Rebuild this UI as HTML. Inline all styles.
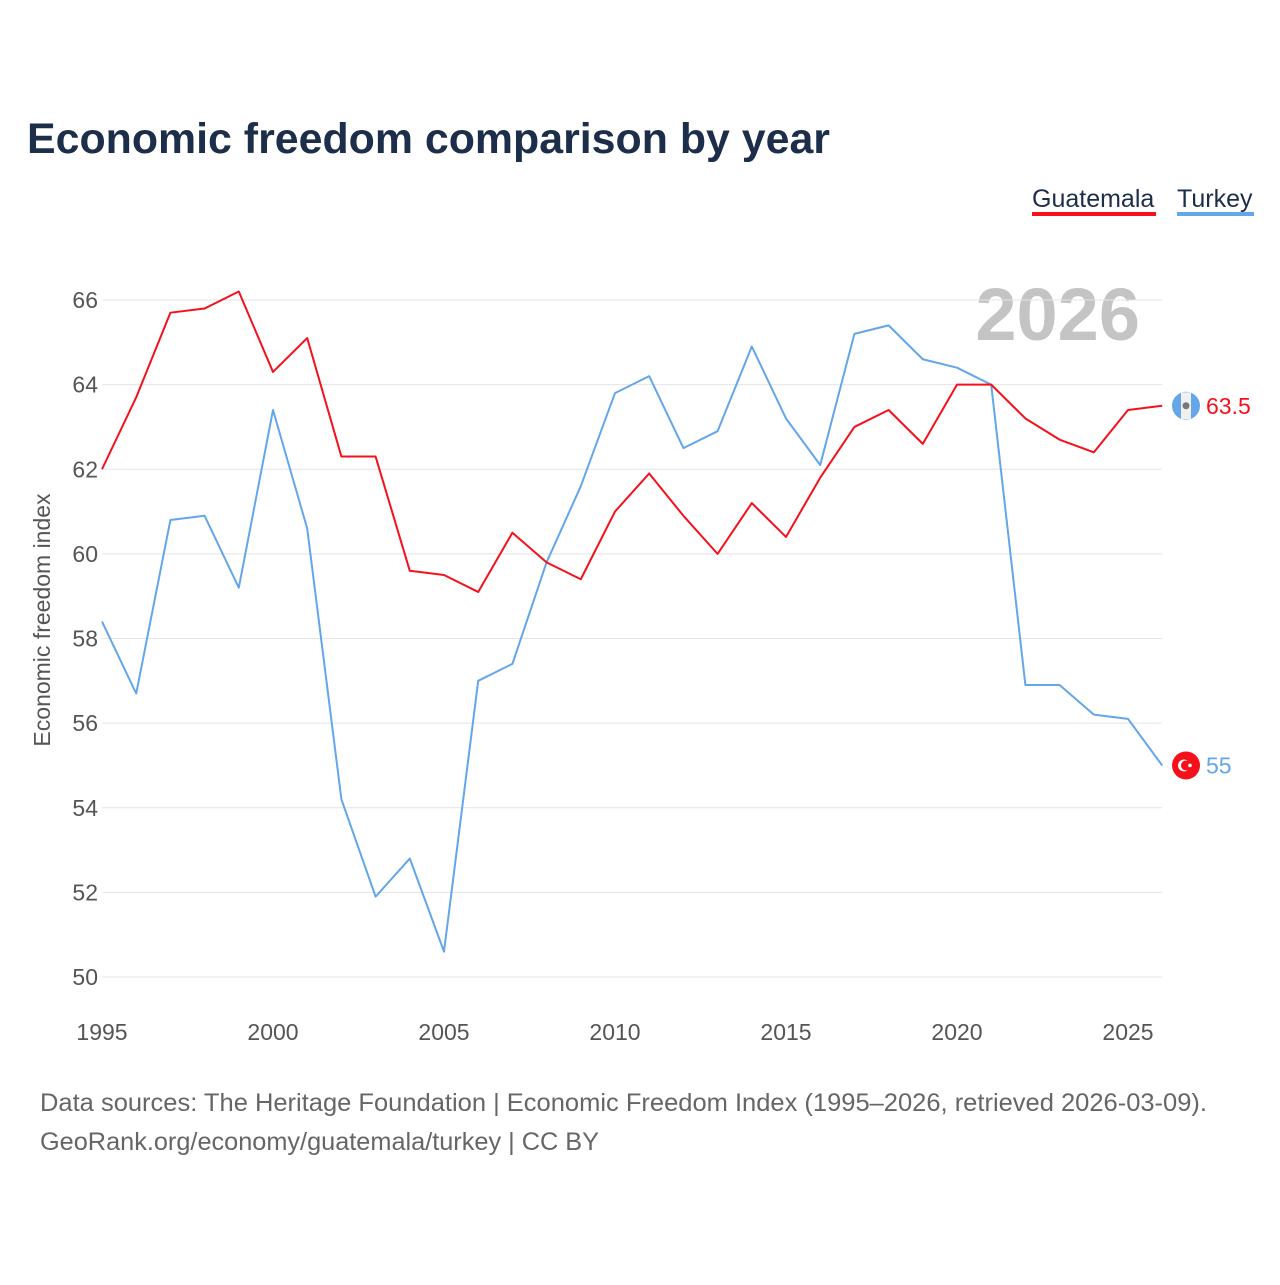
<!DOCTYPE html>
<html><head><meta charset="utf-8">
<style>
body{margin:0;background:#fff;font-family:"Liberation Sans",sans-serif;}
svg text{font-family:"Liberation Sans",sans-serif;}
</style></head>
<body>
<svg id="chart" width="1280" height="1280" xmlns="http://www.w3.org/2000/svg">
<text x="27" y="153" font-size="43" font-weight="bold" fill="#1c2e4a" textLength="803" lengthAdjust="spacingAndGlyphs">Economic freedom comparison by year</text>
<g>
<text x="1032" y="207" font-size="25" fill="#1c2e4a">Guatemala</text>
<rect x="1032" y="212" width="124" height="4" fill="#f5101c"/>
</g>
<g>
<text x="1177" y="207" font-size="25" fill="#1c2e4a">Turkey</text>
<rect x="1177" y="212" width="77" height="4" fill="#63a6ea"/>
</g>
<text x="1140" y="340" text-anchor="end" font-size="74" font-weight="bold" fill="#c4c4c4">2026</text>
<text transform="translate(50,620) rotate(-90)" text-anchor="middle" font-size="23" fill="#555">Economic freedom index</text>
<g id="grid"></g><g id="lines"></g>
<text x="40" y="1111" font-size="25" fill="#666" textLength="1167" lengthAdjust="spacingAndGlyphs">Data sources: The Heritage Foundation | Economic Freedom Index (1995–2026, retrieved 2026-03-09).</text>
<text x="40" y="1150" font-size="25" fill="#666" textLength="559" lengthAdjust="spacingAndGlyphs">GeoRank.org/economy/guatemala/turkey | CC BY</text>
</svg>
<script>
const years=[1995,1996,1997,1998,1999,2000,2001,2002,2003,2004,2005,2006,2007,2008,2009,2010,2011,2012,2013,2014,2015,2016,2017,2018,2019,2020,2021,2022,2023,2024,2025,2026];
const guatemala=[62.0,63.7,65.7,65.8,66.2,64.3,65.1,62.3,62.3,59.6,59.5,59.1,60.5,59.8,59.4,61.0,61.9,60.9,60.0,61.2,60.4,61.8,63.0,63.4,62.6,64.0,64.0,63.2,62.7,62.4,63.4,63.5];
const turkey=[58.4,56.7,60.8,60.9,59.2,63.4,60.6,54.2,51.9,52.8,50.6,57.0,57.4,59.8,61.6,63.8,64.2,62.5,62.9,64.9,63.2,62.1,65.2,65.4,64.6,64.4,64.0,56.9,56.9,56.2,56.1,55.0];
const yTicks=[50,52,54,56,58,60,62,64,66];
const xTicks=[1995,2000,2005,2010,2015,2020,2025];
const NS="http://www.w3.org/2000/svg";
const X=y=>102+(y-1995)*(1026/30);
const Y=v=>977-(v-50)*(677/16);
function mk(t,a,p){const e=document.createElementNS(NS,t);for(const k in a)e.setAttribute(k,a[k]);p.appendChild(e);return e;}
const grid=document.getElementById('grid'),lines=document.getElementById('lines');
yTicks.forEach(v=>{
 const l=mk('line',{x1:102,x2:1162,y1:Y(v),y2:Y(v),stroke:'#e4e4e4','stroke-width':1},grid);
 
 
 const t=mk('text',{x:98,y:Y(v)+8,'text-anchor':'end','font-size':23,fill:'#555'},grid);t.textContent=v;
 
 
});
xTicks.forEach(v=>{
 const t=mk('text',{x:X(v),y:1040,'text-anchor':'middle','font-size':23,fill:'#555'},grid);t.textContent=v;
 
 
});
function series(vals,color,name,label,flag){
 const p=mk('polyline',{points:vals.map((v,i)=>X(years[i])+','+Y(v)).join(' '),fill:'none',stroke:color,'stroke-width':2,'stroke-linejoin':'round'},lines);
 
 
 const lv=vals[vals.length-1],cy=Y(lv);
 const g=mk('g',{},lines);
 
 
 if(flag==='gt'){
  mk('circle',{cx:1186,cy:cy,r:14,fill:'#63a6ea'},g);
  mk('rect',{x:1181,y:cy-13.5,width:10,height:27,fill:'#f0f0f0'},g);
  mk('circle',{cx:1186,cy:cy,r:3.5,fill:'#777'},g);
 }else{
  mk('circle',{cx:1186,cy:cy,r:14,fill:'#f5101c'},g);
  mk('circle',{cx:1184,cy:cy,r:6,fill:'#fff'},g);
  mk('circle',{cx:1186,cy:cy,r:5,fill:'#f5101c'},g);
  mk('circle',{cx:1190,cy:cy,r:1.8,fill:'#fff'},g);
 }
 const t=mk('text',{x:1206,y:cy+8,'font-size':23,fill:color},lines);t.textContent=label;
 
 
}
series(turkey,'#63a6ea','turkey','55','tr');
series(guatemala,'#f5101c','guatemala','63.5','gt');
</script>
</body></html>
